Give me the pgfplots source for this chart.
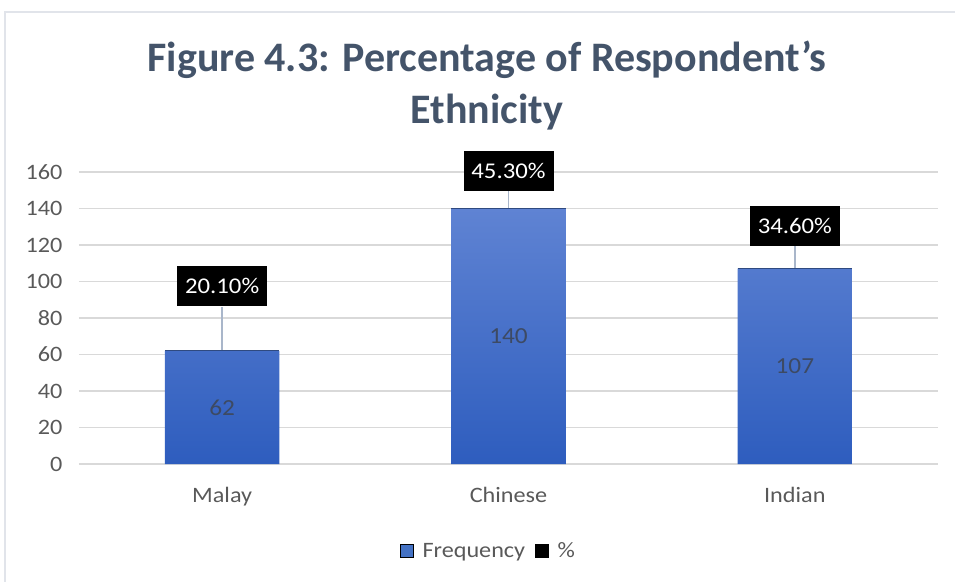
\documentclass[border=0pt]{standalone}
\usepackage{pgfplots}
\pgfplotsset{compat=1.18}
\usepackage{fontspec}
\setmainfont{Carlito}
\newfontfamily\widefont{Carlito}[FakeStretch=1.1]
\definecolor{titlecol}{HTML}{44546A}
\definecolor{tickcol}{HTML}{595959}
\definecolor{gridcol}{HTML}{D9D9D9}
\definecolor{framecol}{HTML}{E1E4EA}
\definecolor{bartop}{HTML}{5F83D3}
\definecolor{barbot}{HTML}{2E5DBE}
\definecolor{legblue}{HTML}{4472C4}
\definecolor{barlab}{HTML}{3D4A63}
\definecolor{leadcol}{HTML}{A9B6CA}
\definecolor{baredge}{HTML}{2F4A80}
\begin{document}
\begin{tikzpicture}[x=1pt,y=1pt]
\useasboundingbox (-79,-118) rectangle (876,464);
\draw[framecol, line width=1.5pt] (-74,-118) -- (-74,452) -- (876,452);
\node[anchor=base, font=\fontsize{42}{50}\selectfont\bfseries, text=titlecol] at (408,392) {Figure 4.3: Percentage of Respondent’s};
\node[anchor=base, font=\fontsize{42}{50}\selectfont\bfseries, text=titlecol] at (408,340) {Ethnicity};
\begin{axis}[
  at={(0,0)}, anchor=south west,
  scale only axis, width=859pt, height=292pt,
  xmin=-0.5, xmax=2.5, ymin=0, ymax=160,
  ytick={0,20,...,160}, xtick={0,1,2},
  xticklabels={Malay,Chinese,Indian},
  ymajorgrids, grid style={gridcol, line width=1.2pt},
  axis line style={draw=none}, tick style={draw=none},
  /pgf/number format/assume math mode=true,
  ticklabel style={font=\widefont\fontsize{22}{26}\selectfont, text=tickcol},
  yticklabel style={xshift=-13pt},
  xticklabel style={yshift=-20pt},
  clip=false,
  legend image code/.code={\fill[#1] (0pt,-6.5pt) rectangle (13pt,6.5pt);},
  legend style={at={(0.4767,-0.298)}, anchor=center, draw=none, fill=none,
    legend columns=-1, font=\widefont\fontsize{22}{26}\selectfont, text=tickcol,
    /tikz/every odd column/.append style={column sep=7pt},
    /tikz/every even column/.append style={column sep=8pt}},
]
\addplot[ybar, bar width=0.4, bar shift=0pt, draw=none, top color=bartop, bottom color=barbot, forget plot]
  coordinates {(0,62) (1,140) (2,107)};
\addplot[forget plot, baredge, line width=0.8pt, mark=none] coordinates {(-0.2,62) (0.2,62)};
\addplot[forget plot, baredge, line width=0.8pt, mark=none] coordinates {(0.8,140) (1.2,140)};
\addplot[forget plot, baredge, line width=0.8pt, mark=none] coordinates {(1.8,107) (2.2,107)};
\addplot[forget plot, leadcol, line width=1.6pt, mark=none] coordinates {(0,62.4) (0,86)};
\addplot[forget plot, leadcol, line width=1.6pt, mark=none] coordinates {(1,140.4) (1,149.6)};
\addplot[forget plot, leadcol, line width=1.6pt, mark=none] coordinates {(2,107.4) (2,119.5)};
\addplot[forget plot, draw=none, mark=none, nodes near coords, point meta=explicit symbolic,
  nodes near coords align=center,
  every node near coord/.append style={font=\widefont\fontsize{23}{27}\selectfont, text=barlab, anchor=center}]
  table[meta=lab] {
x y lab
0 31 62
1 70 140
2 53.5 107
};
\addplot[forget plot, draw=none, mark=none, nodes near coords, point meta=explicit symbolic,
  nodes near coords align=center,
  every node near coord/.append style={font=\widefont\fontsize{22.5}{26}\selectfont, text=white, fill=black,
    minimum width=90pt, minimum height=40pt, inner sep=0pt, anchor=center}]
  table[meta=lab] {
x y lab
0 97.5 20.10\%
1 160.5 45.30\%
2 130.4 34.60\%
};
\addlegendimage{fill=legblue}
\addlegendentry{Frequency}
\addlegendimage{fill=black}
\addlegendentry{\%}
\end{axis}
\end{tikzpicture}
\end{document}
